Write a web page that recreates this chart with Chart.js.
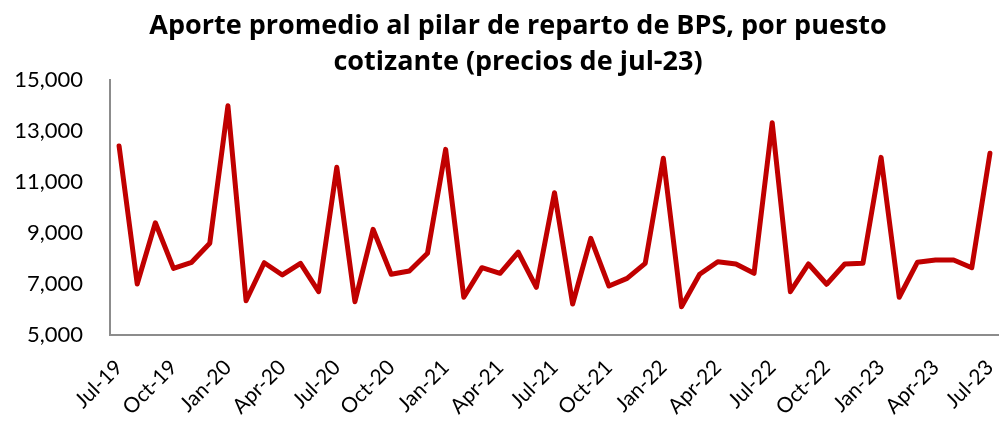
<!DOCTYPE html>
<html>
<head>
<meta charset="utf-8">
<script src="https://cdn.jsdelivr.net/npm/chart.js@4"></script>
<style>
  html, body { margin: 0; padding: 0; background: #fff; }
  #wrap { position: relative; width: 999px; height: 421px; }
  #title {
    position: absolute; left: 0; top: 6px; width: 1036px;
    text-align: center; font: bold 27px "Open Sans", sans-serif;
    line-height: 36px; color: #000;
  }
</style>
</head>
<body>
<div id="wrap">
  <canvas id="chart" width="999" height="421"></canvas>
  <div id="title">Aporte promedio al pilar de reparto de BPS, por puesto<br>cotizante (precios de jul-23)</div>
</div>
<script>
// Meses de jul-19 a jul-23 (etiqueta visible cada 3 meses)
var MONTHS = ["Jan", "Feb", "Mar", "Apr", "May", "Jun", "Jul", "Aug", "Sep", "Oct", "Nov", "Dec"];
var labels = [];
for (var y = 2019; y <= 2023; y++) {
  for (var m = 0; m < 12; m++) {
    if ((y === 2019 && m < 6) || (y === 2023 && m > 6)) continue;
    labels.push(MONTHS[m] + "-" + String(y).slice(2));
  }
}

// Aporte promedio por puesto cotizante (pesos, precios jul-23)
var aporte = [
  12410, 7000, 9400, 7615, 7850, 8600, 13990, 6345, 7835, 7355, 7810, 6700,
  11575, 6305, 9145, 7380, 7510, 8205, 12280, 6480, 7640, 7420, 8245, 6870,
  10580, 6215, 8790, 6920, 7220, 7810, 11930, 6110, 7380, 7875, 7785, 7420,
  13325, 6700, 7785, 6990, 7785, 7810, 11965, 6480, 7850, 7940, 7940, 7640,
  12125
];

var yTicks = [5000, 7000, 9000, 11000, 13000, 15000];

var AXIS = "#8c8c8c";
var RED = "#C00000";

new Chart(document.getElementById("chart"), {
  type: "line",
  data: {
    labels: labels,
    datasets: [{
      data: aporte,
      borderColor: RED,
      borderWidth: 5,
      pointRadius: 0,
      tension: 0,
      borderJoinStyle: "round",
      borderCapStyle: "round",
      fill: false
    }]
  },
  options: {
    responsive: false,
    animation: false,
    layout: { padding: { top: 80, right: 0, left: 0, bottom: 0 } },
    plugins: { legend: { display: false }, title: { display: false }, tooltip: { enabled: false } },
    scales: {
      x: {
        offset: true,
        grid: { display: false, drawTicks: false },
        border: { color: AXIS, width: 2 },
        ticks: {
          autoSkip: false,
          maxRotation: 45,
          minRotation: 45,
          padding: 20,
          color: "#000",
          font: { family: "Lato", size: 21 },
          callback: function (v, i) { return i % 3 === 0 ? labels[i] : null; }
        },
        afterFit: function (s) {
          s.height = 86;
          s.paddingLeft = 0;
          s.paddingRight = 0;
        }
      },
      y: {
        min: yTicks[0],
        max: yTicks[yTicks.length - 1],
        grid: { display: false, drawTicks: false },
        border: { color: AXIS, width: 2 },
        ticks: {
          stepSize: 2000,
          padding: 27,
          color: "#000",
          font: { family: "Lato", size: 22 },
          callback: function (v) { return v.toLocaleString("en-US"); }
        },
        afterFit: function (s) { s.width = 110; }
      }
    }
  }
});
</script>
</body>
</html>
